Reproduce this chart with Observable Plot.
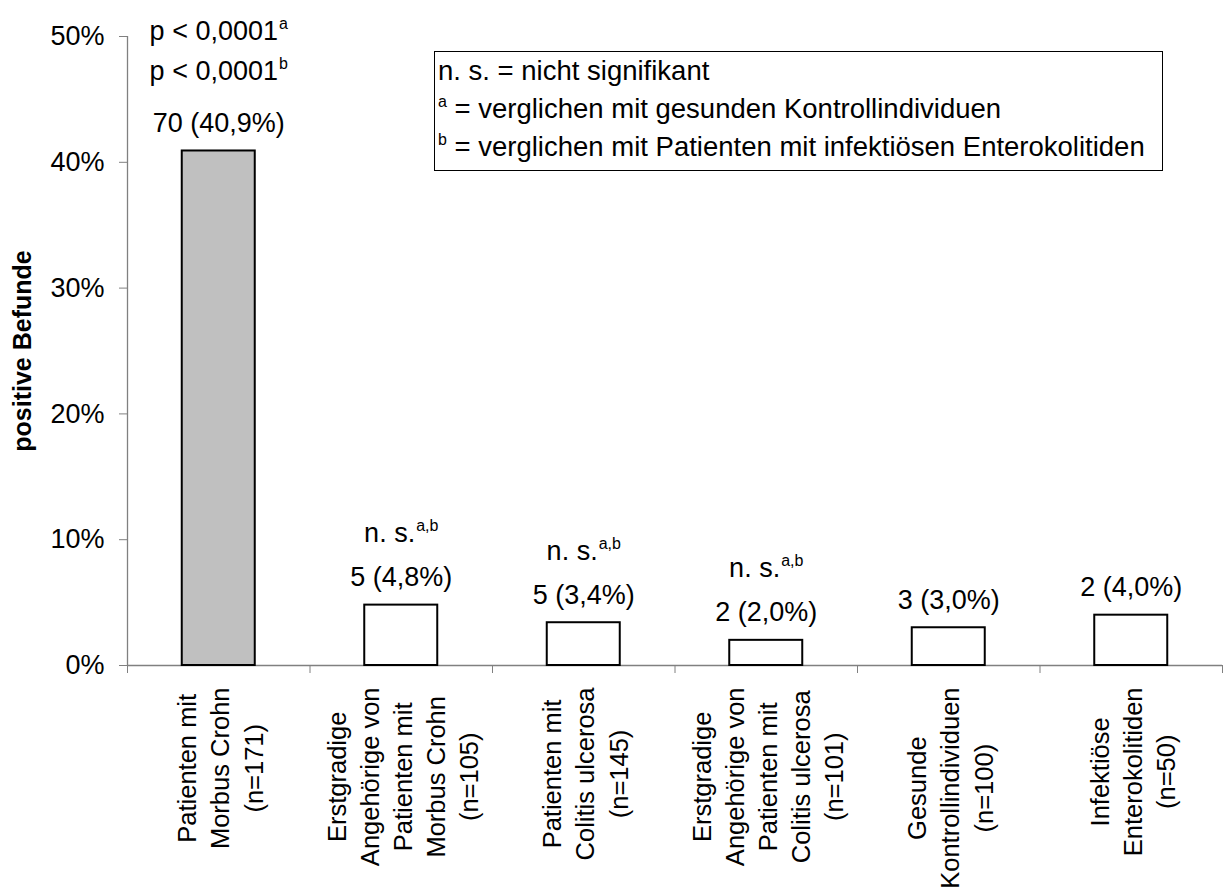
<!DOCTYPE html>
<html>
<head>
<meta charset="utf-8">
<script src="https://cdn.jsdelivr.net/npm/d3@7"></script>
<script src="https://cdn.jsdelivr.net/npm/@observablehq/plot@0.6"></script>
<style>
  html, body { margin: 0; padding: 0; background: #fff; }
  #wrap { position: relative; width: 1223px; height: 891px; overflow: hidden;
          font-family: "Liberation Sans", Arial, sans-serif; color: #000; }
  #legend { position: absolute; left: 434px; top: 51px; width: 729px; height: 120px;
            box-sizing: border-box; border: 1.6px solid #000; background: #fff;
            font-size: 27.5px; line-height: 38px; padding: 0 0 0 3px; white-space: nowrap; }
  #legend sup { font-size: 16px; line-height: 0; vertical-align: 11px; }
</style>
</head>
<body>
<div id="wrap"><div id="chart"></div><div id="legend"></div></div>
<script>
// ---------- data ----------
const categories = [
  "Patienten mit\nMorbus Crohn\n(n=171)",
  "Erstgradige\nAngehörige von\nPatienten mit\nMorbus Crohn\n(n=105)",
  "Patienten mit\nColitis ulcerosa\n(n=145)",
  "Erstgradige\nAngehörige von\nPatienten mit\nColitis ulcerosa\n(n=101)",
  "Gesunde\nKontrollindividuen\n(n=100)",
  "Infektiöse\nEnterokolitiden\n(n=50)"
];
const counts = [70, 5, 5, 2, 3, 2];
const percents = [40.9, 4.8, 3.4, 2.0, 3.0, 4.0];
const barFills = ["#c0c0c0", "#ffffff", "#ffffff", "#ffffff", "#ffffff", "#ffffff"];
// significance annotations (top to bottom) : [text, superscript]
const significance = [
  [["p < 0,0001", "a"], ["p < 0,0001", "b"]],
  [["n. s.", "a,b"]],
  [["n. s.", "a,b"]],
  [["n. s.", "a,b"]],
  [],
  []
];
const yTicks = [0, 10, 20, 30, 40, 50];
const yLabel = "positive Befunde";
const legendSup = ["", "a", "b"];
const legendText = ["n. s. = nicht signifikant",
                    " = verglichen mit gesunden Kontrollindividuen",
                    " = verglichen mit Patienten mit infektiösen Enterokolitiden"];

// ---------- helpers ----------
const FONT = '"Liberation Sans", Arial, sans-serif';
const ctx = document.createElement("canvas").getContext("2d");
function tw(s, size, weight = "normal") {
  ctx.font = `${weight} ${size}px "Liberation Sans"`;
  return ctx.measureText(s).width;
}
const fmt = v => v.toFixed(1).replace(".", ",");

const data = categories.map((cat, i) => ({
  i, cat, pct: percents[i], fill: barFills[i],
  label: `${counts[i]} (${fmt(percents[i])}%)`
}));

const sigRows = [];
significance.forEach((rows, i) => rows.forEach(([t, s], j) =>
  sigRows.push({i, pct: percents[i], text: t, sup: s, k: rows.length - 1 - j, n: rows.length})));

const VAL_SIZE = 27, CAT_SIZE = 25.5, SUP_SIZE = 16;
const VAL_GAP = 19;
const cx = d => d.i + 0.5;

const marks = [
  Plot.ruleY([0], {stroke: "#808080", strokeWidth: 1.3}),
  Plot.ruleX([0], {stroke: "#808080", strokeWidth: 1.3}),
  Plot.axisY({ticks: yTicks, tickSize: 8, tickPadding: 15, tickFormat: d => d + "%",
              fontSize: 27, stroke: "#808080", fill: "#000", label: null}),
  Plot.axisX({ticks: d3.range(0, categories.length + 1), tickSize: 8, tickFormat: () => "",
              stroke: "#808080", label: null}),
  Plot.rect(data, {x1: d => d.i + 0.3, x2: d => d.i + 0.7, y1: 0, y2: "pct",
                   fill: "fill", stroke: "#000", strokeWidth: 2}),
  Plot.text(data, {x: cx, y: "pct", text: "label", lineAnchor: "bottom", dy: -VAL_GAP,
                   fontSize: VAL_SIZE, fill: "#000"}),
  Plot.text([yLabel], {text: d => d, frameAnchor: "left", rotate: -90, dx: -105,
                       textAnchor: "middle", lineAnchor: "middle",
                       fontWeight: "bold", fontSize: 25, fill: "#000"})
];

for (const r of sigRows) {
  const mW = tw(r.text, VAL_SIZE), sW = tw(r.sup, SUP_SIZE), T = mW + sW + 1;
  const firstGap = r.n > 1 ? 52 : 44;
  const dyBase = -VAL_GAP - firstGap - r.k * 40;
  marks.push(Plot.text([r], {x: cx, y: "pct", text: "text", textAnchor: "start", lineAnchor: "bottom",
                             dx: -T / 2, dy: dyBase, fontSize: VAL_SIZE, fill: "#000"}));
  marks.push(Plot.text([r], {x: cx, y: "pct", text: "sup", textAnchor: "start", lineAnchor: "bottom",
                             dx: -T / 2 + mW + 1, dy: dyBase - 11, fontSize: SUP_SIZE, fill: "#000"}));
}

for (const d of data) {
  const L = Math.max(...d.cat.split("\n").map(s => tw(s, CAT_SIZE)));
  marks.push(Plot.text([d], {x: cx, text: "cat", frameAnchor: "bottom", rotate: -90,
                             textAnchor: "middle", lineAnchor: "middle", lineHeight: 1.3,
                             fontSize: CAT_SIZE, fill: "#000", dy: 22 + L / 2}));
}

const chart = Plot.plot({
  width: 1223, height: 891,
  marginLeft: 127, marginRight: 1, marginTop: 36, marginBottom: 226,
  x: {domain: [0, categories.length]},
  y: {domain: [0, 50]},
  color: {type: "identity"},
  style: {fontFamily: FONT, background: "#fff", color: "#000", overflow: "visible"},
  marks
});
document.getElementById("chart").appendChild(chart);

// legend box
const lg = document.getElementById("legend");
legendText.forEach((t, i) => {
  const line = document.createElement("div");
  if (legendSup[i]) {
    const s = document.createElement("sup");
    s.textContent = legendSup[i];
    line.appendChild(s);
  }
  line.appendChild(document.createTextNode(t));
  lg.appendChild(line);
});
</script>
</body>
</html>
